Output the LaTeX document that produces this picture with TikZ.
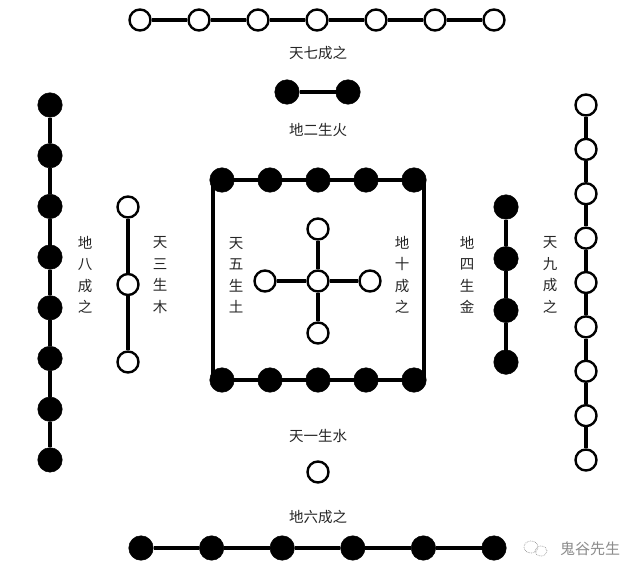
\documentclass[tikz,border=0pt]{standalone}
\usepackage{fontspec}
\newfontfamily\cjk{Noto Sans CJK SC}
\begin{document}
\begin{tikzpicture}[x=1pt,y=-1pt,
  wh/.style={circle,draw=black,line width=2.4pt,fill=white,minimum size=21pt,inner sep=0pt},
  bk/.style={circle,draw=black,fill=black,line width=0.5pt,minimum size=24.5pt,inner sep=0pt},
  ln/.style={line width=3.2pt},
  lab/.style={font=\cjk\fontsize{14.5}{21.5}\selectfont,align=center,inner sep=0pt,text=black!85},
  wm/.style={font=\cjk\fontsize{15}{18}\selectfont,inner sep=0pt,text=black!45}]
\useasboundingbox (0,0) rectangle (640,578);
\fill[white] (0,0) rectangle (640,578);

% top row: 7 white
\foreach \i in {0,...,6} \node[wh] (t\i) at ({140+59*\i},20) {};
\foreach \i [remember=\i as \l (initially 0)] in {1,...,6} \draw[ln] (t\l) -- (t\i);
\node[lab] (l7) at (318,53) {天七成之};

% pair of black
\node[bk] (p0) at (287,92) {};
\node[bk] (p1) at (348,92) {};
\draw[ln] (p0) -- (p1);
\node[lab] (l2) at (318,130) {地二生火};

% box
\coordinate (btl) at (213,180);
\coordinate (bbr) at (424,380);
\draw[ln] (btl) rectangle (bbr);
\foreach \i in {0,...,4} {
  \node[bk] (bt\i) at ({222+48*\i},180) {};
  \node[bk] (bb\i) at ({222+48*\i},380) {};
}

% cross of 5 white
\node[wh] (c0) at (318,281) {};
\node[wh] (cu) at (318,229) {};
\node[wh] (cd) at (318,333) {};
\node[wh] (cl) at (265,281) {};
\node[wh] (cr) at (370,281) {};
\foreach \n in {cu,cd,cl,cr} \draw[ln] (c0) -- (\n);

\node[lab] (l5) at (236,275) {天\\五\\生\\土};
\node[lab] (l10) at (402,275) {地\\十\\成\\之};

% left: 8 black
\foreach \i in {0,...,7} \node[bk] (e\i) at (50,{105+50.7*\i}) {};
\foreach \i [remember=\i as \l (initially 0)] in {1,...,7} \draw[ln] (e\l) -- (e\i);
\node[lab] (l8) at (85,275) {地\\八\\成\\之};

% 3 white
\foreach \i in {0,...,2} \node[wh] (w\i) at (128,{207+77.5*\i}) {};
\draw[ln] (w0) -- (w1);
\draw[ln] (w1) -- (w2);
\node[lab] (l3) at (160,275) {天\\三\\生\\木};

% 4 black
\foreach \i in {0,...,3} \node[bk] (f\i) at (506,{207+51.7*\i}) {};
\foreach \i [remember=\i as \l (initially 0)] in {1,...,3} \draw[ln] (f\l) -- (f\i);
\node[lab] (l4) at (467,275) {地\\四\\生\\金};

% 9 white
\foreach \i in {0,...,8} \node[wh] (n\i) at (586,{105+44.375*\i}) {};
\foreach \i [remember=\i as \l (initially 0)] in {1,...,8} \draw[ln] (n\l) -- (n\i);
\node[lab] (l9) at (550,275) {天\\九\\成\\之};

% one white
\node[lab] (l1) at (318,436) {天一生水};
\node[wh] (o0) at (318,472) {};

% bottom: 6 black
\node[lab] (l6) at (318,517) {地六成之};
\foreach \i in {0,...,5} \node[bk] (s\i) at ({141+70.6*\i},548) {};
\foreach \i [remember=\i as \l (initially 0)] in {1,...,5} \draw[ln] (s\l) -- (s\i);

% watermark
\draw[black!40,line width=0.7pt,densely dotted] (531,547) ellipse (7pt and 6pt);
\draw[black!40,line width=0.7pt,densely dotted] (541,551) ellipse (6pt and 5pt);
\node[wm] (wmk) at (590,549) {鬼谷先生};
\end{tikzpicture}
\end{document}
